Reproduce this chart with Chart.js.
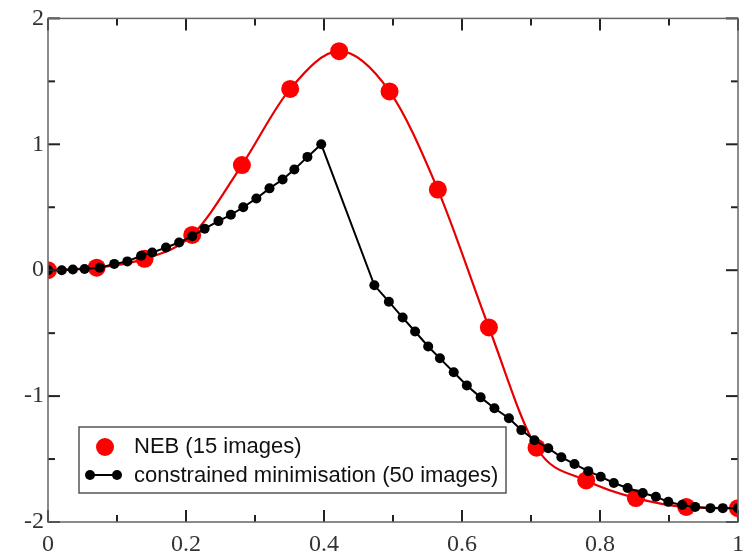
<!DOCTYPE html>
<html>
<head>
<meta charset="utf-8">
<script src="https://cdn.jsdelivr.net/npm/chart.js@4/dist/chart.umd.min.js"></script>
<style>
html,body{margin:0;padding:0;background:#fff;}
canvas{display:block;}
</style>
</head>
<body>
<canvas id="c" width="752" height="554"></canvas>
<script>
// ---- data ----
const nebX = [0, 0.0705, 0.14, 0.209, 0.281, 0.351, 0.422, 0.495, 0.565, 0.639, 0.708, 0.78, 0.852, 0.925, 1.0];
const nebY = [0, 0.02, 0.09, 0.28, 0.835, 1.44, 1.74, 1.42, 0.64, -0.455, -1.41, -1.67, -1.81, -1.88, -1.89];

const cmX = [0, 0.020, 0.036, 0.053, 0.075, 0.096, 0.115, 0.135, 0.151, 0.171, 0.190, 0.209, 0.227, 0.247, 0.265, 0.283, 0.302, 0.321, 0.340, 0.357, 0.376, 0.396,
             0.473, 0.494, 0.514, 0.532, 0.551, 0.568, 0.588, 0.607, 0.627, 0.647, 0.668, 0.686, 0.705, 0.725, 0.744, 0.763, 0.783, 0.801, 0.820, 0.840, 0.862, 0.881, 0.899, 0.919, 0.938, 0.960, 0.978, 1.0];
const cmY = [0, 0.0, 0.005, 0.01, 0.02, 0.05, 0.07, 0.115, 0.14, 0.18, 0.22, 0.27, 0.33, 0.39, 0.44, 0.50, 0.57, 0.65, 0.72, 0.80, 0.90, 1.0,
             -0.12, -0.25, -0.376, -0.487, -0.606, -0.70, -0.81, -0.915, -1.01, -1.097, -1.176, -1.27, -1.35, -1.414, -1.485, -1.54, -1.596, -1.64, -1.69, -1.73, -1.77, -1.80, -1.84, -1.865, -1.88, -1.89, -1.89, -1.89];

const xTickLabels = ['0', '0.2', '0.4', '0.6', '0.8', '1'];
const yTickLabels = ['-2', '-1', '0', '1', '2'];
const xMajor = [0, 0.2, 0.4, 0.6, 0.8, 1];
const xMinor = [0.1, 0.3, 0.5, 0.7, 0.9];
const yMajor = [-2, -1, 0, 1, 2];
const yMinor = [-1.5, -0.5, 0.5, 1.5];

const legendLabels = ['NEB (15 images)', 'constrained minimisation (50 images)'];

const toPts = (xs, ys) => xs.map((x, i) => ({x: x, y: ys[i]}));

const framePlugin = {
  id: 'frame',
  afterDatasetsDraw(chart) {
    const ctx = chart.ctx;
    const a = chart.chartArea;
    const xs = chart.scales.x, ys = chart.scales.y;
    ctx.save();
    // ticks (inward, on all four sides)
    ctx.strokeStyle = '#222';
    ctx.lineWidth = 2;
    const tick = (x1, y1, x2, y2) => { ctx.beginPath(); ctx.moveTo(x1, y1); ctx.lineTo(x2, y2); ctx.stroke(); };
    xMajor.forEach(v => { const p = xs.getPixelForValue(v); tick(p, a.bottom, p, a.bottom - 12); tick(p, a.top, p, a.top + 12); });
    xMinor.forEach(v => { const p = xs.getPixelForValue(v); tick(p, a.bottom, p, a.bottom - 7); tick(p, a.top, p, a.top + 7); });
    yMajor.forEach(v => { const p = ys.getPixelForValue(v); tick(a.left, p, a.left + 12, p); tick(a.right, p, a.right - 12, p); });
    yMinor.forEach(v => { const p = ys.getPixelForValue(v); tick(a.left, p, a.left + 7, p); tick(a.right, p, a.right - 7, p); });
    // frame
    ctx.strokeStyle = '#666';
    ctx.lineWidth = 1.5;
    ctx.strokeRect(a.left, a.top, a.right - a.left, a.bottom - a.top);

    // legend
    ctx.fillStyle = '#fff';
    ctx.fillRect(79, 427, 427, 66);
    ctx.strokeStyle = '#555';
    ctx.lineWidth = 1.5;
    ctx.strokeRect(79, 427, 427, 66);
    ctx.fillStyle = '#ff0000';
    ctx.beginPath(); ctx.arc(105, 447, 9, 0, Math.PI * 2); ctx.fill();
    ctx.strokeStyle = '#000'; ctx.lineWidth = 2;
    ctx.beginPath(); ctx.moveTo(90, 475); ctx.lineTo(117, 475); ctx.stroke();
    ctx.fillStyle = '#000';
    [90, 117].forEach(x => { ctx.beginPath(); ctx.arc(x, 475, 5, 0, Math.PI * 2); ctx.fill(); });
    ctx.font = '22px "Liberation Sans", Arial, sans-serif';
    ctx.textBaseline = 'middle';
    ctx.textAlign = 'left';
    ctx.fillStyle = '#111';
    ctx.fillText(legendLabels[0], 134, 447);
    ctx.fillText(legendLabels[1], 134, 476);
    ctx.restore();
  }
};

new Chart(document.getElementById('c'), {
  type: 'scatter',
  data: {
    datasets: [
      {
        label: legendLabels[1],
        data: toPts(cmX, cmY),
        showLine: true,
        borderColor: '#000',
        backgroundColor: '#000',
        borderWidth: 2,
        pointRadius: 5,
        pointBorderWidth: 0,
        pointBackgroundColor: '#000',
        tension: 0,
        order: 0
      },
      {
        label: legendLabels[0],
        data: toPts(nebX, nebY),
        showLine: true,
        borderColor: '#e80000',
        backgroundColor: '#ff0000',
        borderWidth: 2.2,
        pointRadius: 9,
        pointBorderWidth: 0,
        pointBackgroundColor: '#ff0000',
        cubicInterpolationMode: 'monotone',
        order: 1
      }
    ]
  },
  options: {
    responsive: false,
    animation: false,
    events: [],
    layout: { padding: { top: 17, right: 9, left: 0, bottom: 0 } },
    plugins: { legend: { display: false }, tooltip: { enabled: false } },
    scales: {
      x: {
        type: 'linear', min: 0, max: 1,
        grid: { display: false, drawTicks: false },
        border: { display: false },
        ticks: {
          stepSize: 0.2, padding: 8, color: '#333',
          font: { family: '"Liberation Serif", "Times New Roman", serif', size: 24 },
          callback: (v, i) => xTickLabels[i]
        },
        afterFit: s => { s.height = 32; }
      },
      y: {
        type: 'linear', min: -2, max: 2,
        grid: { display: false, drawTicks: false },
        border: { display: false },
        ticks: {
          stepSize: 1, padding: 4, color: '#333',
          font: { family: '"Liberation Serif", "Times New Roman", serif', size: 24 },
          callback: (v, i) => yTickLabels[i]
        },
        afterFit: s => { s.width = 48; }
      }
    }
  },
  plugins: [framePlugin]
});
</script>
</body>
</html>
